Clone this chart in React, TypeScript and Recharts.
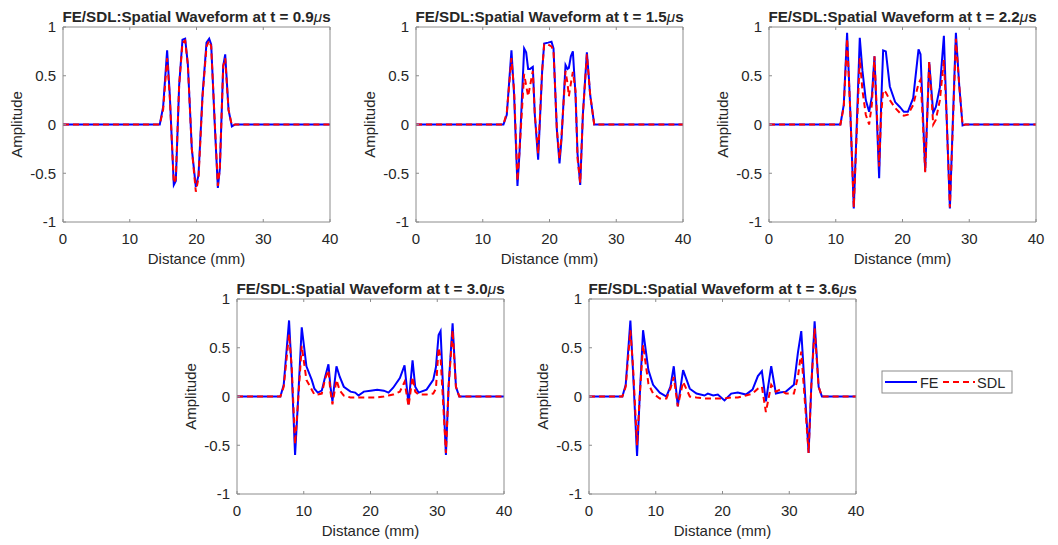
import { Line, LineChart, XAxis, YAxis } from "recharts";

const distanceTicks = [0, 10, 20, 30, 40];
const amplitudeTicks = [-1, -0.5, 0, 0.5, 1];
const snapshotTimes = ["0.9", "1.5", "2.2", "3.0", "3.6"];

// t = 0.9 us
const x09 = [0, 14.5, 15.0, 15.6, 16.0, 16.6, 16.9, 17.4, 17.9, 18.3, 18.7, 19.3, 19.9, 20.3, 20.9, 21.5, 21.9, 22.2, 22.7, 23.2, 23.5, 24.0, 24.3, 24.8, 25.3, 25.8, 40];
const fe09 = [0, 0, 0.18, 0.76, 0.3, -0.62, -0.58, 0.4, 0.87, 0.88, 0.62, -0.25, -0.64, -0.52, 0.3, 0.84, 0.88, 0.82, 0.05, -0.65, -0.45, 0.6, 0.72, 0.15, -0.02, 0, 0];
const sdl09 = [0, 0, 0.15, 0.68, 0.28, -0.6, -0.56, 0.4, 0.84, 0.86, 0.62, -0.25, -0.69, -0.55, 0.28, 0.8, 0.86, 0.8, 0.08, -0.63, -0.45, 0.6, 0.68, 0.15, -0.01, 0, 0];

// t = 1.5 us
const x15 = [0, 13.1, 13.6, 14.3, 14.7, 15.2, 15.5, 16.2, 16.5, 16.8, 17.1, 17.5, 17.8, 18.3, 18.9, 19.2, 19.8, 20.3, 20.6, 21.1, 21.5, 21.8, 22.4, 22.7, 22.9, 23.2, 23.5, 23.9, 24.2, 24.6, 25.0, 25.6, 26.1, 26.7, 40];
const fe15 = [0, 0, 0.1, 0.76, 0.3, -0.63, -0.3, 0.78, 0.74, 0.57, 0.57, 0.59, 0.1, -0.36, 0.55, 0.83, 0.84, 0.85, 0.78, -0.05, -0.4, -0.15, 0.61, 0.57, 0.58, 0.7, 0.75, 0.3, -0.3, -0.62, 0.1, 0.74, 0.3, 0, 0];
const sdl15 = [0, 0, 0.12, 0.68, 0.35, -0.58, -0.28, 0.52, 0.4, 0.29, 0.4, 0.55, 0.1, -0.3, 0.55, 0.82, 0.82, 0.8, 0.76, -0.05, -0.35, -0.12, 0.55, 0.42, 0.29, 0.42, 0.54, 0.35, -0.35, -0.6, 0.1, 0.72, 0.3, 0, 0];

// t = 2.2 us
const x22 = [0, 10.7, 11.2, 11.7, 12.2, 12.7, 13.1, 13.6, 14.0, 14.5, 15.0, 15.4, 15.8, 16.5, 16.8, 17.1, 17.5, 18.1, 18.9, 19.6, 20.2, 20.8, 21.6, 22.4, 22.7, 23.0, 23.4, 24.0, 24.6, 25.0, 25.6, 26.2, 26.6, 27.1, 27.5, 28.0, 28.5, 29.0, 29.4, 40];
const fe22 = [0, 0, 0.2, 0.94, 0.1, -0.86, -0.1, 0.89, 0.55, 0.25, 0.13, 0.28, 0.7, -0.55, 0.2, 0.76, 0.75, 0.39, 0.23, 0.18, 0.13, 0.13, 0.27, 0.77, 0.72, 0.2, -0.48, 0.64, 0.12, 0.18, 0.38, 0.91, 0.1, -0.86, -0.05, 0.94, 0.4, -0.01, 0, 0];
const sdl22 = [0, 0, 0.18, 0.88, 0.1, -0.85, -0.15, 0.68, 0.35, 0.1, 0, 0.2, 0.7, -0.43, 0.1, 0.35, 0.33, 0.25, 0.17, 0.12, 0.09, 0.1, 0.2, 0.42, 0.46, 0.1, -0.49, 0.65, 0, 0.05, 0.25, 0.66, 0.1, -0.85, -0.1, 0.88, 0.4, -0.01, 0, 0];

// t = 3.0 us
const x30 = [0, 6.5, 7.0, 7.8, 8.2, 8.7, 9.1, 9.7, 10.4, 11.2, 11.6, 12.1, 12.7, 13.2, 13.7, 14.0, 14.3, 14.9, 15.4, 16.0, 17.0, 17.7, 18.2, 19.0, 20.0, 21.0, 22.0, 22.7, 23.4, 24.4, 25.1, 25.7, 26.3, 26.7, 27.2, 28.4, 29.4, 29.8, 30.2, 30.5, 31.3, 31.7, 32.3, 32.8, 33.3, 40];
const fe30 = [0, 0, 0.12, 0.78, 0.25, -0.6, -0.1, 0.71, 0.31, 0.17, 0.08, 0.04, 0.06, 0.2, 0.33, 0.1, -0.05, 0.31, 0.2, 0.1, 0.05, 0.04, 0.01, 0.05, 0.06, 0.07, 0.06, 0.04, 0.09, 0.19, 0.32, -0.08, 0.37, 0.1, 0.04, 0.07, 0.17, 0.3, 0.63, 0.67, -0.6, 0.1, 0.75, 0.1, 0, 0];
const sdl30 = [0, 0, 0.1, 0.64, 0.3, -0.49, -0.1, 0.52, 0.17, 0.07, 0.02, 0.02, 0.03, 0.18, 0.27, 0.05, -0.08, 0.17, 0.06, 0.01, -0.01, -0.01, -0.01, -0.01, -0.01, -0.01, 0, 0.01, 0.02, 0.05, 0.15, -0.1, 0.2, 0.05, 0.02, 0.02, 0.03, 0.08, 0.5, 0.4, -0.58, 0.1, 0.68, 0.1, 0, 0];

// t = 3.6 us
const x36 = [0, 5.0, 5.5, 6.2, 6.6, 7.2, 7.6, 8.1, 8.9, 9.6, 10.6, 11.6, 12.2, 12.7, 13.3, 14.1, 15.1, 16.1, 17.3, 17.8, 18.6, 19.3, 20.3, 21.3, 22.3, 23.5, 24.5, 25.3, 25.9, 26.5, 27.3, 28.0, 28.6, 29.5, 30.7, 31.3, 31.8, 32.9, 33.3, 33.8, 34.4, 34.9, 40];
const fe36 = [0, 0, 0.12, 0.78, 0.25, -0.61, 0, 0.68, 0.27, 0.12, 0.04, 0, 0.1, 0.31, -0.1, 0.27, 0.08, 0.03, 0.01, 0.03, 0.01, 0.02, -0.04, 0.03, 0.04, 0.02, 0.07, 0.21, 0.26, -0.05, 0.31, 0.03, 0.04, 0.05, 0.12, 0.45, 0.67, -0.58, 0.1, 0.77, 0.1, 0, 0];
const sdl36 = [0, 0, 0.1, 0.68, 0.3, -0.5, 0, 0.53, 0.13, 0.03, -0.02, -0.02, 0.08, 0.2, -0.1, 0.15, 0, -0.01, -0.02, -0.02, -0.02, -0.02, -0.02, -0.01, -0.01, 0.01, 0.03, 0.08, 0.1, -0.16, 0.12, 0.05, 0.07, 0.03, 0.03, 0.2, 0.46, -0.58, 0.1, 0.7, 0.1, 0, 0];

const toRows = (x: number[], fe: number[], sdl: number[]) =>
  x.map((d, i) => ({ x: d, fe: fe[i], sdl: sdl[i] }));

const series = [
  toRows(x09, fe09, sdl09),
  toRows(x15, fe15, sdl15),
  toRows(x22, fe22, sdl22),
  toRows(x30, fe30, sdl30),
  toRows(x36, fe36, sdl36),
];

// plot-area corners in the page
const panelPos = [
  { left: 63, top: 27 },
  { left: 416, top: 27 },
  { left: 769, top: 27 },
  { left: 237, top: 299 },
  { left: 589, top: 299 },
];

const W = 267;
const H = 195;
// space around the plot area: axis size + chart margin
const YW = 40;
const XH = 24;
const TOPH = 4;
const RW = 4;
const PAD = 6;
const axisGray = "#8c8c8c";
const textColor = "#262626";
const font = "'Liberation Sans', Arial, sans-serif";

function Panel({ left, top, data }: { left: number; top: number; data: any[] }) {
  return (
    <div style={{ position: "absolute", left: left - YW - PAD, top: top - TOPH - PAD }}>
      <LineChart
        width={W + YW + RW + 2 * PAD}
        height={H + XH + TOPH + 2 * PAD}
        data={data}
        margin={{ top: PAD, right: PAD, bottom: PAD, left: PAD }}
      >
        <XAxis
          xAxisId="b"
          dataKey="x"
          type="number"
          domain={[0, 40]}
          ticks={distanceTicks}
          interval={0}
          height={XH}
          tickSize={-3}
          tickMargin={14}
          stroke={axisGray}
          tick={{ fill: textColor, fontSize: 15 }}
        />
        <XAxis
          xAxisId="t"
          orientation="top"
          dataKey="x"
          type="number"
          domain={[0, 40]}
          ticks={distanceTicks}
          interval={0}
          height={TOPH}
          tickSize={-3}
          tickFormatter={() => ""}
          stroke={axisGray}
        />
        <YAxis
          yAxisId="l"
          type="number"
          domain={[-1, 1]}
          ticks={amplitudeTicks}
          interval={0}
          width={YW}
          tickSize={-3}
          tickMargin={10}
          stroke={axisGray}
          tick={{ fill: textColor, fontSize: 15 }}
        />
        <YAxis
          yAxisId="r"
          orientation="right"
          type="number"
          domain={[-1, 1]}
          ticks={amplitudeTicks}
          interval={0}
          width={RW}
          tickSize={-3}
          tickFormatter={() => ""}
          stroke={axisGray}
        />
        <Line
          xAxisId="b"
          yAxisId="l"
          type="linear"
          dataKey="fe"
          stroke="#0000ff"
          strokeWidth={2}
          dot={false}
          isAnimationActive={false}
        />
        <Line
          xAxisId="b"
          yAxisId="l"
          type="linear"
          dataKey="sdl"
          stroke="#ff0000"
          strokeWidth={2}
          strokeDasharray="6 4"
          dot={false}
          isAnimationActive={false}
        />
      </LineChart>
    </div>
  );
}

export default function App() {
  return (
    <div
      style={{
        position: "absolute",
        left: 0,
        top: 0,
        width: 1058,
        height: 545,
        background: "#fff",
        fontFamily: font,
        overflow: "hidden",
      }}
    >
      {panelPos.map((p, i) => (
        <Panel key={i} left={p.left} top={p.top} data={series[i]} />
      ))}
      <svg
        width={1058}
        height={545}
        style={{ position: "absolute", left: 0, top: 0, pointerEvents: "none" }}
        fontFamily={font}
        fill={textColor}
      >
        {panelPos.map((p, i) => (
          <g key={i}>
            <text x={p.left + W / 2} y={p.top - 5.5} textAnchor="middle" fontSize={15.2} fontWeight="bold">
              FE/SDL:Spatial Waveform at t = {snapshotTimes[i]}
              <tspan fontStyle="italic" fontWeight="normal">μ</tspan>s
            </text>
            <text x={p.left + W / 2} y={p.top + H + 42} textAnchor="middle" fontSize={15}>
              Distance (mm)
            </text>
            <text
              x={p.left - 41}
              y={p.top + H / 2}
              textAnchor="middle"
              fontSize={15}
              transform={`rotate(-90 ${p.left - 41} ${p.top + H / 2})`}
            >
              Amplitude
            </text>
          </g>
        ))}
        <rect x={882} y={371} width={130} height={22} fill="#fff" stroke={axisGray} strokeWidth={1} />
        <line x1={885} y1={382} x2={917} y2={382} stroke="#0000ff" strokeWidth={2} />
        <text x={920} y={387.5} fontSize={14.5}>FE</text>
        <line x1={943} y1={382} x2={975} y2={382} stroke="#ff0000" strokeWidth={2} strokeDasharray="6 4" />
        <text x={977} y={387.5} fontSize={14.5}>SDL</text>
      </svg>
    </div>
  );
}
